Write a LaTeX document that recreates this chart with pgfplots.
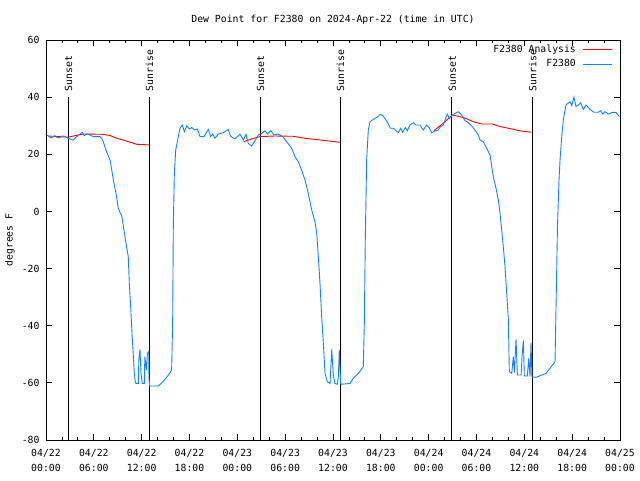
\documentclass[border=0pt]{standalone}
\usepackage{pgfplots}
\pgfplotsset{compat=1.18}
\usepackage{fontspec}
\setmainfont{DejaVu Sans Mono}
\definecolor{gblue}{RGB}{20,130,255}
\begin{document}
\fontsize{9.8}{11}\selectfont
\begin{tikzpicture}
\begin{axis}[
  name=ax, at={(0,0)}, anchor=south west,
  scale only axis, width=574pt, height=400pt,
  xmin=0, xmax=72, ymin=-80, ymax=60,
  xtick={0,6,...,72},
  xticklabels={{04/22\\00:00},{04/22\\06:00},{04/22\\12:00},{04/22\\18:00},{04/23\\00:00},{04/23\\06:00},{04/23\\12:00},{04/23\\18:00},{04/24\\00:00},{04/24\\06:00},{04/24\\12:00},{04/24\\18:00},{04/25\\00:00}},
  xticklabel style={align=center, font=\fontsize{9.8}{15}\selectfont, yshift=-6pt},
  yticklabel style={font=\fontsize{9.8}{11}\selectfont, xshift=-3pt},
  ytick={-80,-60,...,60},
  minor x tick num=2,
  tick align=inside,
  major tick length=6pt, minor tick length=3pt,
  tick style={black, line width=0.8pt},
  axis line style={line width=0.8pt},
  /pgf/number format/assume math mode=true,
  legend style={at={(rel axis cs:1,1)}, anchor=north east, draw=none, fill=none,
    inner xsep=7pt, inner ysep=3pt, row sep=1.5pt, font=\fontsize{9.8}{11}\selectfont},
  legend cell align=right,
  legend plot pos=right,
  legend image code/.code={\path (0pt,0pt); \draw[#1] (5pt,0pt) -- (34pt,0pt);},
]
% sunset / sunrise lines
\addplot[black, line width=0.8pt, forget plot] coordinates {(2.76,-80) (2.76,40)};
\addplot[black, line width=0.8pt, forget plot] coordinates {(12.92,-80) (12.92,40)};
\addplot[black, line width=0.8pt, forget plot] coordinates {(26.85,-80) (26.85,40)};
\addplot[black, line width=0.8pt, forget plot] coordinates {(36.9,-80) (36.9,40)};
\addplot[black, line width=0.8pt, forget plot] coordinates {(50.9,-80) (50.9,40)};
\addplot[black, line width=0.8pt, forget plot] coordinates {(61.0,-80) (61.0,40)};

% analysis
\addplot[red, line width=0.9pt] coordinates {
(0.25,26.4) (2.76,26.0) (4.64,27.1) (7.0,27.0) (8.0,26.6) (8.87,25.6) (9.9,24.8) (11.4,23.5) (12.9,23.3)};
\addlegendentry{F2380 Analysis}
\addplot[red, line width=0.9pt, forget plot] coordinates {
(24.8,24.4) (25.6,25.2) (26.85,26.2) (28.7,26.4) (31.0,26.3) (32.5,25.6) (34.4,25.0) (36.9,24.2)};
\addplot[red, line width=0.9pt, forget plot] coordinates {
(48.67,28.3) (49.8,30.8) (50.97,33.75) (52.35,32.9) (53.6,31.4) (54.65,30.6) (56.0,30.6) (56.95,29.7) (58.2,29.0) (59.46,28.2) (60.9,27.7)};

% observations
\addplot[gblue, line width=0.9pt] coordinates {
(0.15,26.7) (0.45,26.0) (0.7,25.8) (1.1,26.5) (1.4,25.9) (1.76,25.8) (2.0,26.4) (2.26,26.4) (2.5,26.0) (2.8,25.6)
(3.1,25.3) (3.43,25.0) (3.85,26.2) (4.05,26.6) (4.27,27.1) (4.56,27.7) (4.8,26.5) (5.05,27.0) (5.3,27.1) (5.6,26.6)
(5.93,26.2) (6.3,26.2) (6.77,26.2) (7.0,25.5) (7.19,24.4) (7.4,22.5) (7.61,20.9) (8.03,18.0) (8.25,14.5) (8.45,11.0)
(8.78,6.3) (9.07,1.1) (9.3,-0.5) (9.49,-1.3) (9.78,-6.5) (10.04,-11.2) (10.32,-15.9) (10.45,-25.2) (10.62,-33.3)
(10.79,-42.7) (10.95,-50.3) (11.08,-56.7) (11.2,-59.6) (11.29,-60.2) (11.58,-60.2) (11.65,-51.4) (11.79,-48.3)
(11.92,-56.7) (12.08,-60.2) (12.33,-60.2) (12.4,-50.85) (12.6,-55.5) (12.72,-49.7) (12.88,-49.1) (12.92,-58.4)
(13.0,-61.1) (14.09,-61.1) (14.7,-59.5) (15.35,-57.3) (15.76,-55.5) (15.89,-38) (15.97,-5.3) (16.1,13.3)
(16.27,21.5) (16.6,26.2) (16.8,29.1) (17.1,30.25) (17.35,27.9) (17.65,29.9) (17.98,28.85) (18.27,29.4) (18.6,28.5)
(18.98,28.85) (19.32,26.2) (19.82,26.2) (20.36,28.7) (20.66,26.2) (20.91,27.1) (21.2,25.6) (21.62,27.1) (22.24,27.55)
(22.87,28.7) (23.17,26.2) (23.7,25.4) (24.34,27.0) (24.75,25.0) (25.09,27.0) (25.38,23.8) (25.8,22.9) (26.22,24.75)
(26.63,26.75) (27.06,27.3) (27.47,28.25) (27.76,27.1) (28.19,28.25) (28.6,26.75) (29.14,27.1) (29.69,26.2)
(30.19,24.4) (30.82,22.1) (31.23,19.2) (31.65,17.4) (32.07,14.5) (32.49,11.0) (32.9,6.3) (33.33,0.5) (33.74,-3.6)
(33.96,-7.7) (34.16,-15.85) (34.37,-25.2) (34.58,-36.85) (34.79,-46.2) (35.0,-56.7) (35.29,-59.6) (35.63,-60.2)
(35.84,-48.3) (36.04,-57.25) (36.25,-60.2) (36.54,-60.5) (36.67,-57.8) (36.79,-48.5) (36.96,-60.2) (37.09,-60.5)
(38.13,-60.2) (38.55,-58.4) (39.18,-56.7) (39.8,-54.35) (39.93,-39.2) (40.05,-10) (40.22,18.0) (40.43,28.5)
(40.64,31.4) (41.27,32.6) (41.68,33.2) (41.9,34.0) (42.3,33.4) (42.8,31.4) (43.2,29.1) (43.57,29.1) (43.9,28.25)
(44.2,27.7) (44.5,29.1) (44.74,27.7) (45.07,29.4) (45.32,28.25) (45.66,30.25) (46.07,31.05) (46.41,30.25)
(46.91,30.25) (47.33,28.5) (47.75,30.25) (48.04,29.4) (48.38,27.55) (48.8,28.15) (49.2,28.5) (49.5,29.7)
(49.83,30.25) (50.05,32.0) (50.34,34.1) (50.59,32.6) (50.9,33.4) (51.3,34.35) (51.72,34.9) (52.14,33.75)
(52.56,31.75) (52.85,31.4) (53.4,29.9) (53.81,28.5) (54.23,26.75) (54.44,25.0) (54.85,24.4) (55.28,22.1)
(55.7,19.75) (55.91,15.65) (56.11,12.15) (56.45,8.1) (56.74,4.0) (56.95,-0.65) (57.16,-6.5) (57.36,-12.35)
(57.58,-19.35) (57.79,-28.7) (57.99,-37.4) (58.12,-56.1) (58.42,-56.7) (58.62,-50.85) (58.75,-56.4) (58.96,-44.8)
(59.13,-57.25) (59.6,-57.25) (59.71,-50.85) (59.88,-45.2) (60.0,-57.6) (60.38,-57.6) (60.55,-51.4) (60.71,-57.8)
(60.84,-46) (60.96,-58.0) (61.55,-58.0) (62.18,-57.25) (62.72,-56.7) (63.22,-54.9) (63.85,-52.6) (64.0,-30)
(64.16,-5) (64.35,11) (64.48,18) (64.69,26.2) (64.89,32) (65.23,37.3) (65.73,38.4) (65.95,37.0) (66.23,40.0)
(66.48,36.7) (66.77,37.25) (67.07,38.0) (67.4,35.7) (67.74,37.25) (68.24,35.7) (68.74,34.7) (69.28,34.7)
(69.58,35.25) (69.83,34.1) (70.12,34.9) (70.54,34.1) (71.09,34.7) (71.5,34.6) (71.92,33.2)};
\addlegendentry{F2380}

% labels
\node[rotate=90, anchor=base west, inner sep=0pt] at ([xshift=4pt]axis cs:2.76,42) {Sunset};
\node[rotate=90, anchor=base west, inner sep=0pt] at ([xshift=4pt]axis cs:12.92,42) {Sunrise};
\node[rotate=90, anchor=base west, inner sep=0pt] at ([xshift=4pt]axis cs:26.85,42) {Sunset};
\node[rotate=90, anchor=base west, inner sep=0pt] at ([xshift=4pt]axis cs:36.9,42) {Sunrise};
\node[rotate=90, anchor=base west, inner sep=0pt] at ([xshift=4pt]axis cs:50.9,42) {Sunset};
\node[rotate=90, anchor=base west, inner sep=0pt] at ([xshift=4pt]axis cs:61.0,42) {Sunrise};
\end{axis}
\node at ([yshift=20pt]ax.north) {Dew Point for F2380 on 2024-Apr-22 (time in UTC)};
\node[rotate=90] at ([xshift=-36pt]ax.west) {degrees F};
\pgfresetboundingbox
\path[use as bounding box] (-46pt,-40pt) rectangle (594pt,440pt);
\end{tikzpicture}
\end{document}
